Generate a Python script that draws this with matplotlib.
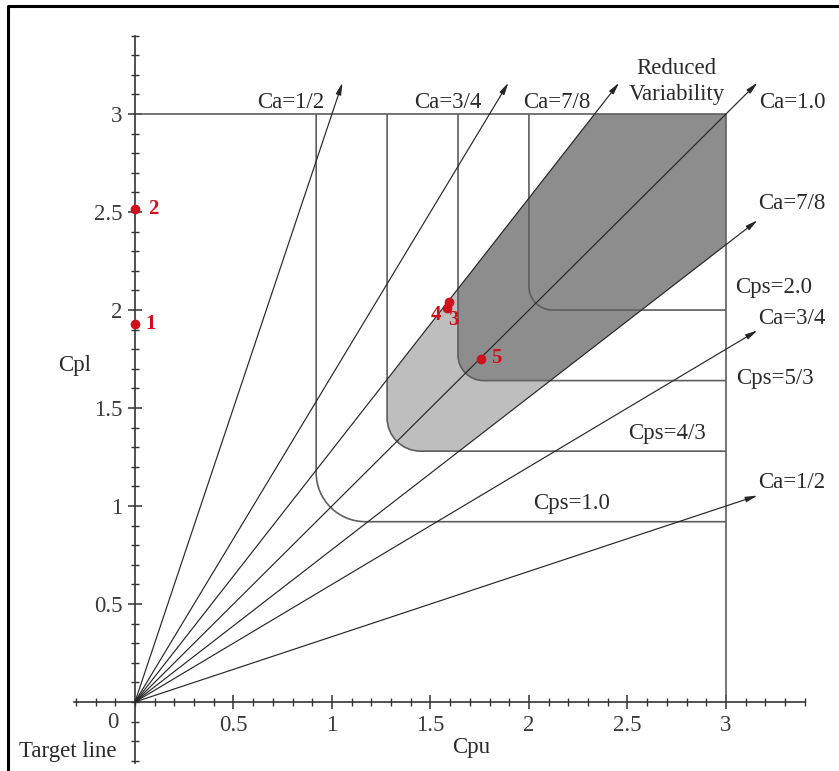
import numpy as np
import matplotlib
matplotlib.use('Agg')  # no display
from matplotlib import pyplot as plt
from matplotlib.path import Path
from matplotlib.patches import PathPatch, Polygon
from matplotlib.ticker import FixedLocator, FuncFormatter

plt.rc('font', family=['Liberation Serif', 'DejaVu Serif'])

# Ca lines (accuracy) drawn as rays from the origin
ca_values = [1/2, 3/4, 7/8, 1.0]
ca_names = ['1/2', '3/4', '7/8', '1.0']

# Cps curves: level name, where the curve runs straight, corner size
cps_names = ['1.0', '4/3', '5/3', '2.0']
cps_edge = [0.92, 1.28, 1.64, 2.0]
cps_round = [0.25, 0.17, 0.13, 0.12]

# measured processes
pt_ids = ['1', '2', '3', '4', '5']
pt_cpu = [0.0, 0.0, 1.595, 1.585, 1.755]
pt_cpl = [1.93, 2.515, 2.04, 2.01, 1.75]

limit = 3.0      # Cpu / Cpl box
ray_len = 3.16   # where the arrows stop
band_ca = 7/8    # shaded band lies between the two Ca=7/8 rays

line_col = '#5e5e5e'
ray_col = '#262626'
txt_col = '#2a2a2a'
red = '#d0101c'
fs = 16.5

fig = plt.figure(figsize=(8.39, 7.71), dpi=100)
ax = fig.add_axes([0, 0, 1, 1])
ax.set_xlim(-0.685, 3.574)
ax.set_ylim(-0.352, 3.582)

# axes through the origin
for side in ['top', 'right']:
    ax.spines[side].set_visible(False)
for side in ['left', 'bottom']:
    ax.spines[side].set_position(('data', 0))
    ax.spines[side].set_bounds(-0.31, 3.4)
    ax.spines[side].set_color('#333333')
    ax.spines[side].set_linewidth(1.2)

majors = [0.5, 1.0, 1.5, 2.0, 2.5, 3.0]
minors = [v / 10 for v in range(-3, 35) if v % 5 != 0 or v < 5]
for axis in [ax.xaxis, ax.yaxis]:
    axis.set_major_locator(FixedLocator(majors))
    axis.set_minor_locator(FixedLocator(minors))
    axis.set_major_formatter(FuncFormatter(lambda v, p: '{:g}'.format(v)))
ax.tick_params(which='major', direction='inout', length=10, width=1.1,
               color='#333333', labelsize=fs, labelcolor='#3a3a3a', pad=4)
ax.tick_params(which='minor', direction='inout', length=6, width=1.0, color='#333333')

# outer box of the chart area
ax.plot([0, limit, limit], [limit, limit, 0], color=line_col, lw=1.2, zorder=2)

# shaded region (Reduced Variability)
s = (2 - band_ca) / band_ca
band = Polygon([(0, 0), (limit / s, limit), (limit, limit), (limit, limit / s)],
               closed=True, facecolor='none', edgecolor='none')
ax.add_patch(band)

def cps_path(a, r, closed):
    k = 0.5523 * r
    verts = [(a, limit), (a, a + r), (a, a + r - k), (a + r - k, a), (a + r, a), (limit, a)]
    codes = [Path.MOVETO, Path.LINETO, Path.CURVE4, Path.CURVE4, Path.CURVE4, Path.LINETO]
    if closed:
        verts += [(limit, limit), (a, limit)]
        codes += [Path.LINETO, Path.CLOSEPOLY]
    return Path(verts, codes)

fills = {'4/3': '#bebebe', '5/3': '#8d8d8d'}
for name, a, r in zip(cps_names, cps_edge, cps_round):
    if name in fills:
        fill = PathPatch(cps_path(a, r, True), facecolor=fills[name], edgecolor='none', zorder=1)
        ax.add_patch(fill)
        fill.set_clip_path(band)
for name, a, r in zip(cps_names, cps_edge, cps_round):
    ax.add_patch(PathPatch(cps_path(a, r, False), facecolor='none',
                           edgecolor=line_col, lw=1.2, zorder=2))

# Ca rays with arrow heads
for ca in ca_values:
    slope = (2 - ca) / ca
    ends = [(ray_len / slope, ray_len)]
    if ca < 1:
        ends.append((ray_len, ray_len / slope))
    for xe, ye in ends:
        ax.annotate('', xy=(xe, ye), xytext=(0, 0), zorder=3,
                    arrowprops=dict(arrowstyle='-|>,head_length=0.7,head_width=0.16',
                                    lw=0.85, color=ray_col, shrinkA=0, shrinkB=0))

# ray labels
top_x = [0.792, 1.589, 2.142, 3.335]
right_y = [1.122, 1.959, 2.546]
for name, xt in zip(ca_names, top_x):
    ax.text(xt, 3.061, 'Ca=' + name, fontsize=fs, color=txt_col, ha='center', va='center')
for name, yt in zip(ca_names[:3], right_y):
    ax.text(3.335, yt, 'Ca=' + name, fontsize=fs, color=txt_col, ha='center', va='center')

# Cps labels
cps_xy = [(2.218, 1.015), (2.701, 1.372), (3.249, 1.653), (3.244, 2.117)]
for name, (xt, yt) in zip(cps_names, cps_xy):
    ax.text(xt, yt, 'Cps=' + name, fontsize=fs, color=txt_col, ha='center', va='center')

ax.text(2.75, 3.168, 'Reduced\nVariability', fontsize=fs, color=txt_col,
        ha='center', va='center', linespacing=1.3)

# axis titles
ax.text(-0.305, 1.719, 'Cpl', fontsize=fs, color=txt_col, ha='center', va='center')
ax.text(1.706, -0.230, 'Cpu', fontsize=fs, color=txt_col, ha='center', va='center')
ax.text(-0.340, -0.255, 'Target line', fontsize=fs, color=txt_col, ha='center', va='center')
ax.text(-0.112, -0.102, '0', fontsize=fs, color='#3a3a3a', ha='center', va='center')

# process points
offsets = [(11, 0), (13, 0), (3, -13), (-8, -5), (11, 1)]
ax.scatter(pt_cpu, pt_cpl, s=36, color=red, zorder=5, clip_on=False)
for pid, xp, yp, off in zip(pt_ids, pt_cpu, pt_cpl, offsets):
    ax.annotate(pid, (xp, yp), xytext=off, textcoords='offset points', fontsize=15,
                fontweight='bold', color=red, ha='center', va='center', zorder=6)

# frame around the figure
fig.add_artist(plt.Line2D([8 / 839, 8 / 839, 1], [0, 1 - 6 / 771, 1 - 6 / 771],
                          transform=fig.transFigure, color='black', lw=2.2))

fig.savefig('out.png', dpi=100)
plt.close()
